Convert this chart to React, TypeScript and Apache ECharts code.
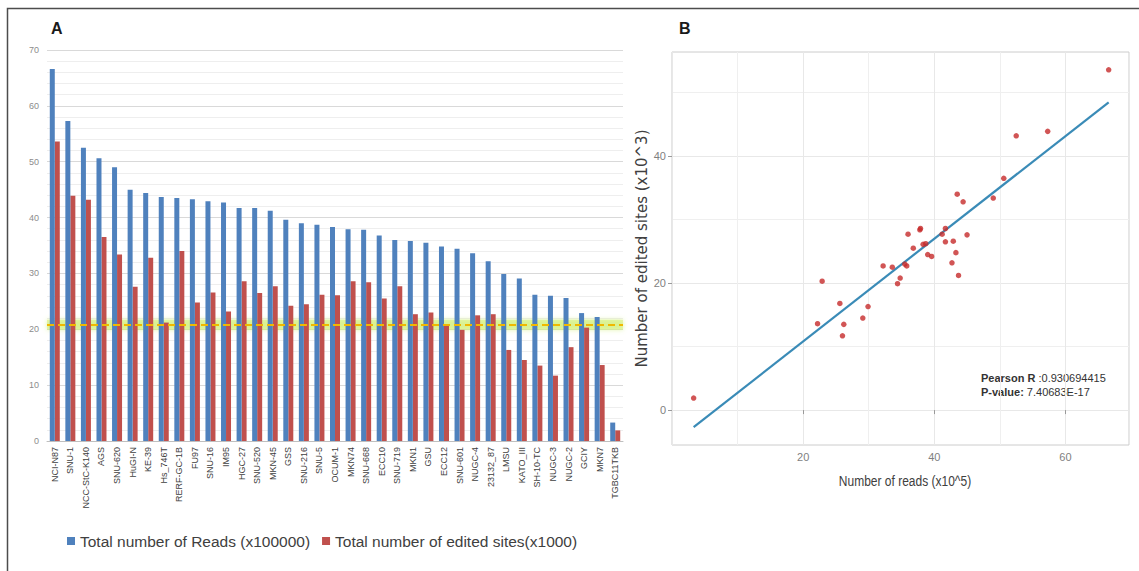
import React, { useEffect, useRef } from "react";
import * as echarts from "echarts";

// Gastric cancer cell lines, sorted by sequencing depth
const cellLines = [
  "NCI-N87", "SNU-1", "NCC-StC-K140", "AGS", "SNU-620", "HuGI-N", "KE-39", "Hs_746T",
  "RERF-GC-1B", "FU97", "SNU-16", "IM95", "HGC-27", "SNU-520", "MKN-45", "GSS",
  "SNU-216", "SNU-5", "OCUM-1", "MKN74", "SNU-668", "ECC10", "SNU-719", "MKN1",
  "GSU", "ECC12", "SNU-601", "NUGC-4", "23132_87", "LMSU", "KATO_III", "SH-10-TC",
  "NUGC-3", "NUGC-2", "GCIY", "MKN7", "TGBC11TKB",
];

// Total number of reads (x100000)
const totalReads = [
  66.6, 57.3, 52.5, 50.6, 49.0, 45.0, 44.4, 43.7,
  43.5, 43.3, 42.9, 42.7, 41.7, 41.7, 41.2, 39.6,
  39.0, 38.7, 38.3, 37.9, 37.8, 36.8, 36.0, 35.8,
  35.5, 34.8, 34.4, 33.6, 32.2, 29.9, 29.1, 26.2,
  26.0, 25.6, 22.9, 22.2, 3.3,
];

// Total number of edited sites (x1000)
const editedSites = [
  53.6, 43.9, 43.2, 36.5, 33.4, 27.6, 32.8, 21.2,
  34.0, 24.8, 26.6, 23.2, 28.6, 26.5, 27.7, 24.2,
  24.5, 26.2, 26.1, 28.6, 28.4, 25.5, 27.7, 22.7,
  23.0, 20.8, 19.9, 22.5, 22.7, 16.3, 14.5, 13.5,
  11.7, 16.8, 20.3, 13.6, 1.9,
];

const thresholdLevel = 20.8;
const sitesMajorTicks = [0, 20, 40];
const sitesMinorLines = [10, 30, 50];
const pearsonR = "0.930694415";
const pValue = "7.40683E-17";

const READS_NAME = "Total number of Reads (x100000)";
const SITES_NAME = "Total number of edited sites(x1000)";
const READS_AXIS_TITLE = "Number of reads (x10^5)";
const SITES_AXIS_TITLE = "Number of edited sites (x10^3)";

function leastSquares(xs: number[], ys: number[]) {
  const n = xs.length;
  const mx = xs.reduce((a, b) => a + b, 0) / n;
  const my = ys.reduce((a, b) => a + b, 0) / n;
  let sxy = 0;
  let sxx = 0;
  for (let i = 0; i < n; i++) {
    sxy += (xs[i] - mx) * (ys[i] - my);
    sxx += (xs[i] - mx) * (xs[i] - mx);
  }
  const slope = sxy / sxx;
  return { slope, intercept: my - slope * mx };
}

export default function App() {
  const ref = useRef<HTMLDivElement>(null);

  useEffect(() => {
    if (!ref.current) return;
    const chart = echarts.init(ref.current, undefined, { renderer: "svg" });

    const points = totalReads.map((r, i) => [r, editedSites[i]]);
    const fit = leastSquares(totalReads, editedSites);
    const xLo = Math.min(...totalReads);
    const xHi = Math.max(...totalReads);
    const fitLine = [
      [xLo, fit.intercept + fit.slope * xLo],
      [xHi, fit.intercept + fit.slope * xHi],
    ];

    const baseFont = "Liberation Sans, Arial, sans-serif";

    chart.setOption({
      animation: false,
      backgroundColor: "#ffffff",
      textStyle: { fontFamily: baseFont },
      grid: [
        { left: 47, top: 50, width: 576, height: 391 },
        {
          left: 672, top: 52, width: 457, height: 393,
          show: true, borderColor: "#cccccc", borderWidth: 1, backgroundColor: "transparent",
        },
      ],
      legend: {
        left: 62,
        top: 528,
        icon: "rect",
        itemWidth: 8,
        itemHeight: 8,
        itemGap: 12,
        data: [READS_NAME, SITES_NAME],
        textStyle: { fontSize: 15.5, color: "#404040", fontFamily: baseFont },
      },
      xAxis: [
        {
          type: "category",
          gridIndex: 0,
          data: cellLines,
          axisLine: { lineStyle: { color: "#bfbfbf" } },
          axisTick: { show: false },
          axisLabel: { interval: 0, rotate: 90, fontSize: 9, color: "#404040", margin: 6 },
        },
        {
          type: "value",
          gridIndex: 1,
          min: 0,
          max: 69.7,
          interval: 20,
          axisLine: { show: false },
          axisTick: { show: true, length: 4, lineStyle: { color: "#999999" } },
          axisLabel: { showMinLabel: false, showMaxLabel: false, fontSize: 11, color: "#7f7f7f", margin: 6 },
          splitLine: { show: true, lineStyle: { color: "#e8e8e8", width: 1 } },
          minorTick: { show: false, splitNumber: 2 },
          minorSplitLine: { show: true, lineStyle: { color: "#efefef", width: 1 } },
        },
      ],
      yAxis: [
        {
          type: "value",
          gridIndex: 0,
          min: 0,
          max: 70,
          interval: 10,
          axisLine: { show: false },
          axisTick: { show: false },
          axisLabel: { fontSize: 9, color: "#8c8c8c", margin: 8 },
          splitLine: { show: true, lineStyle: { color: "#d9d9d9", width: 1 } },
          minorTick: { show: false, splitNumber: 5 },
          minorSplitLine: { show: true, lineStyle: { color: "#eeeeee", width: 1 } },
        },
        {
          type: "value",
          gridIndex: 1,
          min: -5.5,
          max: 56.4,
          axisLine: { show: false },
          axisTick: { show: true, length: 4, customValues: sitesMajorTicks, lineStyle: { color: "#999999" } },
          axisLabel: { customValues: sitesMajorTicks, fontSize: 11, color: "#7f7f7f", margin: 6 },
          splitLine: { show: true, lineStyle: { color: "#e8e8e8", width: 1 } },
          name: SITES_AXIS_TITLE,
          nameLocation: "middle",
          nameGap: 11,
          nameTextStyle: { fontSize: 15, color: "#404040", fontFamily: "DejaVu Sans, sans-serif" },
        },
        {
          // lighter intermediate grid lines of panel B
          type: "value",
          gridIndex: 1,
          min: -5.5,
          max: 56.4,
          axisLine: { show: false },
          axisTick: { show: false, customValues: sitesMinorLines },
          axisLabel: { show: false, customValues: sitesMinorLines },
          splitLine: { show: true, lineStyle: { color: "#efefef", width: 1 } },
        },
      ],
      series: [
        {
          name: READS_NAME,
          type: "bar",
          xAxisIndex: 0,
          yAxisIndex: 0,
          data: totalReads,
          barWidth: 5,
          barGap: "0%",
          itemStyle: { color: "#4f81bd" },
          markArea: {
            silent: true,
            itemStyle: {
              color: "rgba(212,240,125,0.6)",
              shadowBlur: 5,
              shadowColor: "rgba(200,236,100,0.9)",
            },
            data: [[{ yAxis: thresholdLevel - 0.9 }, { yAxis: thresholdLevel + 0.9 }]],
          },
          markLine: {
            silent: true,
            symbol: "none",
            label: { show: false },
            lineStyle: { color: "#f0b800", width: 2, type: [7, 4] },
            data: [{ yAxis: thresholdLevel }],
          },
          z: 3,
        },
        {
          name: SITES_NAME,
          type: "bar",
          xAxisIndex: 0,
          yAxisIndex: 0,
          data: editedSites,
          barWidth: 5,
          barGap: "0%",
          itemStyle: { color: "#c0504d" },
          z: 2,
        },
        {
          name: "fit",
          type: "line",
          xAxisIndex: 1,
          yAxisIndex: 1,
          data: fitLine,
          showSymbol: false,
          symbol: "none",
          lineStyle: { color: "#3a8bb7", width: 2.2 },
          z: 3,
        },
        {
          name: "cell lines",
          type: "scatter",
          xAxisIndex: 1,
          yAxisIndex: 1,
          data: points,
          symbol: "circle",
          symbolSize: 5.5,
          itemStyle: { color: "#c62a2a" },
          z: 4,
        },
      ],
      graphic: [
        {
          type: "rect",
          shape: { x: 7.5, y: 8.5, width: 1200, height: 700 },
          style: { fill: "none", stroke: "#4d4d4d", lineWidth: 1.5 },
          silent: true,
        },
        {
          type: "text",
          x: 51,
          y: 20,
          style: { text: "A", font: `bold 16px ${baseFont}`, fill: "#1a1a1a" },
        },
        {
          type: "text",
          x: 679,
          y: 20,
          style: { text: "B", font: `bold 16px ${baseFont}`, fill: "#1a1a1a" },
        },
        {
          // condensed x-axis title of panel B
          type: "text",
          x: 905,
          y: 481,
          scaleX: 0.8,
          style: {
            text: READS_AXIS_TITLE,
            fontSize: 15,
            fontFamily: baseFont,
            fill: "#404040",
            align: "center",
            verticalAlign: "middle",
          },
        },
        {
          type: "text",
          x: 981,
          y: 371,
          style: {
            text: `{b|Pearson R} :${pearsonR}\n{b|P-value:} ${pValue}`,
            fontSize: 11,
            lineHeight: 14,
            fill: "#333333",
            fontFamily: baseFont,
            rich: { b: { fontWeight: "bold", fontSize: 11, fill: "#333333" } },
          },
        },
      ],
    });

    return () => chart.dispose();
  }, []);

  return (
    <div
      ref={ref}
      style={{ position: "absolute", left: 0, top: 0, width: 1139, height: 571 }}
    />
  );
}
